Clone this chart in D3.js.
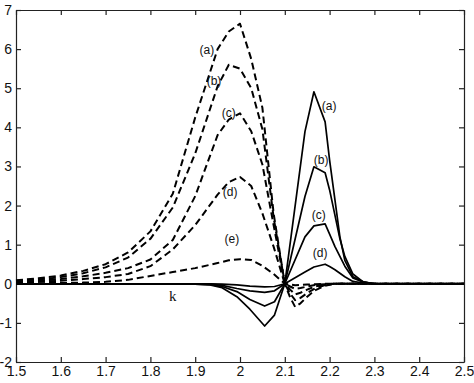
<!DOCTYPE html>
<html><head><meta charset="utf-8">
<script src="https://cdn.jsdelivr.net/npm/d3@7"></script>
<style>
body{margin:0;background:#fff;}
svg{display:block;}
.tick text{font-family:"Liberation Sans",Arial,sans-serif;font-size:14px;fill:#111;}
</style></head>
<body>
<svg id="c" width="474" height="383"></svg>
<script>
// ---- data ----
const xTicks = [1.5,1.6,1.7,1.8,1.9,2.0,2.1,2.2,2.3,2.4,2.5];
const yTicks = [-2,-1,0,1,2,3,4,5,6,7];

const xDashed = [1.5,1.55,1.6,1.65,1.7,1.75,1.8,1.85,1.9,1.95,1.975,2.0,2.025,2.05,2.075,2.1,2.112,2.123,2.135,2.15,2.167,2.19,2.21,2.3,2.4,2.5];
const dashedA = [0.09,0.14,0.21,0.33,0.5,0.8,1.34,2.3,4.25,6.0,6.45,6.65,5.75,4.5,1.8,0,-0.35,-0.59,-0.5,-0.33,-0.17,-0.05,0,0,0,0];
const dashedB = [0.07,0.11,0.17,0.27,0.42,0.67,1.15,1.95,3.33,5.05,5.6,5.5,5.0,3.95,1.7,0,-0.25,-0.42,-0.36,-0.24,-0.12,-0.03,0,0,0,0];
const dashedC = [0.05,0.08,0.12,0.19,0.28,0.4,0.62,1.12,2.24,3.8,4.2,4.36,3.9,3.05,1.5,0,-0.15,-0.27,-0.23,-0.15,-0.07,-0.02,0,0,0,0];
const dashedD = [0.03,0.05,0.08,0.12,0.17,0.25,0.45,0.88,1.5,2.28,2.6,2.73,2.5,1.8,0.95,0,-0.07,-0.13,-0.11,-0.07,-0.03,-0.01,0,0,0,0];
const dashedE = [0.01,0.015,0.02,0.03,0.05,0.1,0.2,0.3,0.4,0.53,0.6,0.63,0.61,0.46,0.25,0,-0.02,-0.04,-0.03,-0.02,-0.01,0,0,0,0,0];

const xSolid = [1.5,1.85,1.9,1.933,1.96,1.993,2.022,2.055,2.077,2.1,2.145,2.165,2.19,2.2,2.212,2.223,2.234,2.252,2.275,2.3,2.5];
const solidA = [0,0,-0.01,-0.03,-0.1,-0.33,-0.65,-1.08,-0.8,0,3.89,4.91,4.14,3.16,2.14,1.2,0.6,0.18,0.05,0,0];
const solidB = [0,0,-0.01,-0.02,-0.07,-0.2,-0.4,-0.57,-0.46,0,2.23,2.99,2.84,2.4,1.75,1.15,0.7,0.25,0.05,0,0];
const solidC = [0,0,0,-0.01,-0.04,-0.12,-0.18,-0.22,-0.18,0,1.2,1.48,1.53,1.27,0.95,0.7,0.45,0.15,0.04,0,0];
const solidD = [0,0,0,0,-0.01,-0.03,-0.06,-0.08,-0.07,0,0.3,0.43,0.5,0.44,0.36,0.27,0.18,0.06,0.02,0,0];

const dashedLabels = ["(a)","(b)","(c)","(d)","(e)"];
const dashedLabelPos = [[1.926,5.87],[1.942,5.08],[1.975,4.27],[1.978,2.24],[1.982,1.04]];
const solidLabels = ["(a)","(b)","(c)","(d)"];
const solidLabelPos = [[2.199,4.44],[2.181,3.06],[2.176,1.66],[2.179,0.68]];

// ---- chart ----
const svg = d3.select("#c");
const x = d3.scaleLinear().domain([1.5,2.5]).range([16,464]);
const y = d3.scaleLinear().domain([-2,7]).range([362,10]);
const fmtX = d => String(+d.toFixed(1));
const fmtY = d => String(d);

svg.append("g").attr("transform",`translate(0,${y(-2)})`)
  .call(d3.axisBottom(x).tickValues(xTicks).tickFormat(fmtX).tickSizeInner(-5).tickSizeOuter(0).tickPadding(4));
svg.append("g").attr("transform",`translate(0,${y(7)})`)
  .call(d3.axisTop(x).tickValues(xTicks).tickFormat("").tickSizeInner(-5).tickSizeOuter(0));
svg.append("g").attr("transform",`translate(${x(1.5)},0)`)
  .call(d3.axisLeft(y).tickValues(yTicks).tickFormat(fmtY).tickSizeInner(-5).tickSizeOuter(0).tickPadding(4));
svg.append("g").attr("transform",`translate(${x(2.5)},0)`)
  .call(d3.axisRight(y).tickValues(yTicks).tickFormat("").tickSizeInner(-5).tickSizeOuter(0));
svg.selectAll(".domain").attr("stroke","#222").attr("stroke-width",1.2);
svg.selectAll(".tick line").attr("stroke","#222").attr("stroke-width",1.2);

const line = (xs) => d3.line().x((d,i)=>x(xs[i])).y(d=>y(d));

[dashedA,dashedB,dashedC,dashedD,dashedE].forEach(s=>{
  svg.append("path").datum(s).attr("d",line(xDashed))
    .attr("fill","none").attr("stroke","#000").attr("stroke-width",2)
    .attr("stroke-dasharray","7,4").attr("stroke-linejoin","round");
});
[solidA,solidB,solidC,solidD].forEach(s=>{
  svg.append("path").datum(s).attr("d",line(xSolid))
    .attr("fill","none").attr("stroke","#000").attr("stroke-width",1.7)
    .attr("stroke-linejoin","round");
});

const lab = (t,p) => svg.append("text").attr("x",x(p[0])).attr("y",y(p[1]))
   .attr("text-anchor","middle").attr("font-family","Liberation Sans, Arial, sans-serif")
   .attr("font-size",12).attr("fill","#111").text(t);
dashedLabels.forEach((t,i)=>lab(t,dashedLabelPos[i]));
solidLabels.forEach((t,i)=>lab(t,solidLabelPos[i]));

svg.append("text").attr("x",x(1.85)).attr("y",y(-0.44))
  .attr("text-anchor","middle").attr("font-family","Liberation Serif, Times New Roman, serif")
  .attr("font-size",15).attr("fill","#111").text("k");
</script>
</body></html>
